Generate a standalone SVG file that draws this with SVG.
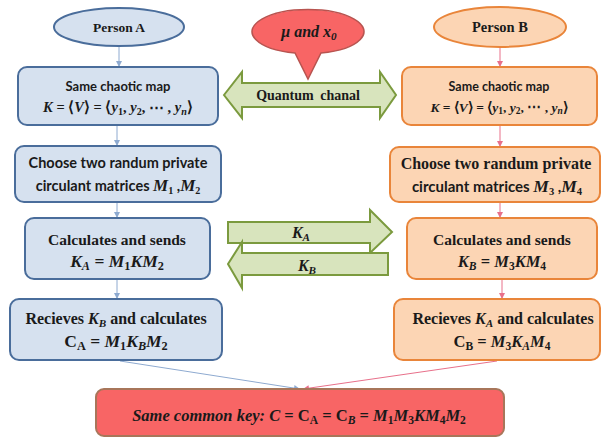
<svg xmlns="http://www.w3.org/2000/svg" width="601" height="438" viewBox="0 0 601 438">
<defs>
<marker id="ab" viewBox="0 0 6 6" refX="6" refY="3" markerWidth="6" markerHeight="6" orient="auto" markerUnits="userSpaceOnUse"><path d="M0,0 L6,3 L0,6 z" fill="#8eaad0"/></marker>
<marker id="ar" viewBox="0 0 6 6" refX="6" refY="3" markerWidth="6" markerHeight="6" orient="auto" markerUnits="userSpaceOnUse"><path d="M0,0 L6,3 L0,6 z" fill="#e8708a"/></marker>
</defs>
<style>
.bA{fill:#d6e1ef;stroke:#4a6d9b;stroke-width:2}
.bB{fill:#fcd5b4;stroke:#e9853a;stroke-width:2}
.red{fill:#f86565;stroke:#a8765a;stroke-width:2}
.grn{fill:#d8e4bd;stroke:#7b9a3e;stroke-width:2;stroke-linejoin:miter}
.call{fill:#f86565;stroke:#b85450;stroke-width:1.5}
text{text-anchor:middle;fill:#1a1a1a;font-weight:bold}
.sr{font-family:"Liberation Serif","Times New Roman",serif}
.ss{font-family:Lato,"Liberation Sans",sans-serif}
.it{font-style:italic}
.sub{font-size:70%;baseline-shift:-25%}
.cA{stroke:#8eaad0;stroke-width:1;fill:none}
.cB{stroke:#e8708a;stroke-width:1;fill:none}
</style>
<rect width="601" height="438" fill="#ffffff"/>

<g id="connectors">
<line class="cA" x1="119" y1="46" x2="119" y2="67" marker-end="url(#ab)"/>
<line class="cA" x1="117" y1="126" x2="117" y2="146" marker-end="url(#ab)"/>
<line class="cA" x1="117" y1="203" x2="117" y2="218" marker-end="url(#ab)"/>
<line class="cA" x1="117" y1="280" x2="117" y2="299" marker-end="url(#ab)"/>
<line class="cA" x1="120" y1="361" x2="300" y2="389" marker-end="url(#ab)"/>
<line class="cB" x1="500" y1="48" x2="500" y2="67" marker-end="url(#ar)"/>
<line class="cB" x1="500" y1="126" x2="500" y2="147" marker-end="url(#ar)"/>
<line class="cB" x1="500" y1="203" x2="500" y2="218" marker-end="url(#ar)"/>
<line class="cB" x1="502" y1="280" x2="502" y2="299" marker-end="url(#ar)"/>
<line class="cB" x1="497" y1="361" x2="303" y2="389" marker-end="url(#ar)"/>
</g>

<g id="personA">
<ellipse class="bA" cx="119" cy="27" rx="65" ry="19"/>
<text class="sr" x="119" y="32" font-size="13.5">Person A</text>
</g>
<g id="personB">
<ellipse class="bB" cx="500" cy="27" rx="66" ry="20"/>
<text class="sr" x="500" y="32" font-size="14.5">Person B</text>
</g>

<g id="callout">
<path class="call" d="M295,53 A56,22 0 1 1 321,53 L308,79 Z"/>
<text class="sr it" x="309" y="37" font-size="16">μ and x<tspan class="sub">0</tspan></text>
</g>

<g id="quantum">
<polygon class="grn" points="224,95 242,72 242,83 380,83 380,72 396,95 380,118 380,107 242,107 242,118"/>
<text class="sr" x="308" y="100" font-size="14" word-spacing="3">Quantum chanal</text>
</g>

<g id="arrowKA">
<polygon class="grn" points="228,222 370,222 370,210 392,232 370,253 370,243 228,243"/>
<text class="sr it" x="301" y="238" font-size="16">K<tspan class="sub">A</tspan></text>
</g>
<g id="arrowKB">
<polygon class="grn" points="388,253 388,275 242,275 242,288 228,264 242,242 242,253"/>
<text class="sr it" x="307" y="271" font-size="16">K<tspan class="sub">B</tspan></text>
</g>

<g id="A1">
<rect class="bA" x="18" y="67" width="200" height="58" rx="9"/>
<text class="ss" x="118" y="91" font-size="13">Same chaotic map</text>
<text class="sr" x="118" y="112" font-size="14.5"><tspan class="it">K</tspan> =  ⟨<tspan class="it">V</tspan>⟩ = ⟨<tspan class="it">y</tspan><tspan class="sub">1</tspan>, <tspan class="it">y</tspan><tspan class="sub">2</tspan>, ⋯ , <tspan class="it">y</tspan><tspan class="sub it">n</tspan>⟩</text>
</g>
<g id="A2">
<rect class="bA" x="15" y="146" width="206" height="56" rx="9"/>
<text class="ss" x="118" y="168" font-size="14.5">Choose two randum private</text>
<text class="ss" x="118" y="191" font-size="14.5">circulant matrices <tspan class="sr it" font-size="17">M</tspan><tspan class="sr sub">1</tspan> ,<tspan class="sr it" font-size="17">M</tspan><tspan class="sr sub">2</tspan></text>
</g>
<g id="A3">
<rect class="bA" x="25" y="218" width="185" height="61" rx="9"/>
<text class="sr" x="117" y="245" font-size="15.5">Calculates and sends</text>
<text class="sr" x="117" y="267" font-size="17.5"><tspan class="it">K</tspan><tspan class="sub it">A</tspan> = <tspan class="it">M</tspan><tspan class="sub">1</tspan><tspan class="it">KM</tspan><tspan class="sub">2</tspan></text>
</g>
<g id="A4">
<rect class="bA" x="10" y="299" width="212" height="61" rx="9"/>
<text class="sr" x="116" y="324" font-size="16">Recieves <tspan class="it">K</tspan><tspan class="sub it">B</tspan> and calculates</text>
<text class="sr" x="116" y="347" font-size="17.5">C<tspan class="sub">A</tspan> = <tspan class="it">M</tspan><tspan class="sub">1</tspan><tspan class="it">K</tspan><tspan class="sub it">B</tspan><tspan class="it">M</tspan><tspan class="sub">2</tspan></text>
</g>

<g id="B1">
<rect class="bB" x="402" y="67" width="195" height="58" rx="9"/>
<text class="ss" x="499" y="91" font-size="12.5">Same chaotic map</text>
<text class="sr" x="499" y="112" font-size="13.5"><tspan class="it">K</tspan> =  ⟨<tspan class="it">V</tspan>⟩ = ⟨<tspan class="it">y</tspan><tspan class="sub">1</tspan>, <tspan class="it">y</tspan><tspan class="sub">2</tspan>, ⋯ , <tspan class="it">y</tspan><tspan class="sub it">n</tspan>⟩</text>
</g>
<g id="B2">
<rect class="bB" x="390" y="147" width="210" height="55" rx="9"/>
<text class="sr" x="496" y="169" font-size="16">Choose two randum private</text>
<text class="ss" x="497" y="192" font-size="15">circulant matrices <tspan class="sr it" font-size="17.5">M</tspan><tspan class="sr sub">3</tspan> ,<tspan class="sr it" font-size="17.5">M</tspan><tspan class="sr sub">4</tspan></text>
</g>
<g id="B3">
<rect class="bB" x="407" y="218" width="190" height="61" rx="9"/>
<text class="sr" x="502" y="245" font-size="15.5">Calculates and sends</text>
<text class="sr" x="502" y="267" font-size="16.5"><tspan class="it">K</tspan><tspan class="sub it">B</tspan> = <tspan class="it">M</tspan><tspan class="sub">3</tspan><tspan class="it">KM</tspan><tspan class="sub">4</tspan></text>
</g>
<g id="B4">
<rect class="bB" x="394" y="299" width="206" height="61" rx="9"/>
<text class="sr" x="503" y="324" font-size="16">Recieves <tspan class="it">K</tspan><tspan class="sub it">A</tspan> and calculates</text>
<text class="sr" x="502" y="347" font-size="16.5">C<tspan class="sub">B</tspan> = <tspan class="it">M</tspan><tspan class="sub">3</tspan><tspan class="it">K</tspan><tspan class="sub it">A</tspan><tspan class="it">M</tspan><tspan class="sub">4</tspan></text>
</g>

<g id="common">
<rect class="red" x="96" y="389" width="408" height="47" rx="8"/>
<text class="sr" x="299" y="421" font-size="16.5"><tspan class="it">Same common key:  C</tspan> = C<tspan class="sub">A</tspan> = C<tspan class="sub it">B</tspan> = <tspan class="it">M</tspan><tspan class="sub">1</tspan><tspan class="it">M</tspan><tspan class="sub">3</tspan><tspan class="it">KM</tspan><tspan class="sub">4</tspan><tspan class="it">M</tspan><tspan class="sub">2</tspan></text>
</g>
</svg>
